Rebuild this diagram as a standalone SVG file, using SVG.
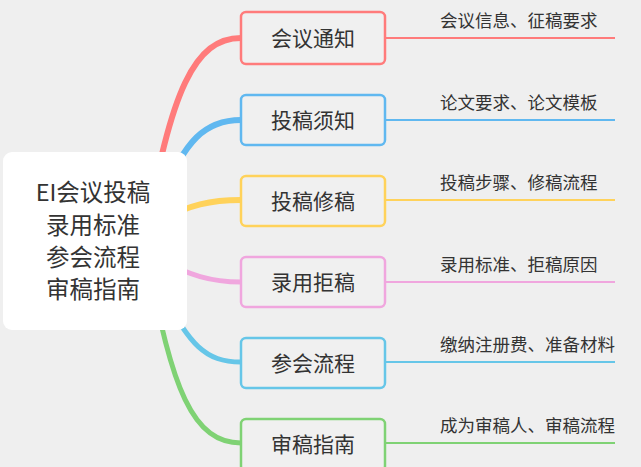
<svg xmlns="http://www.w3.org/2000/svg" width="641" height="467" viewBox="0 0 641 467">
<style>
text{font-family:"Noto Sans CJK SC","Liberation Sans",sans-serif;fill:#333}
.n rect{fill:#f0f0f0;stroke-width:2.5}
.n text{font-size:21px;text-anchor:middle}
.l{font-size:17.5px}
.c path{fill:none}
</style>
<rect width="641" height="467" fill="#efefef"/>
<g class="c">
<path d="M145,240 C170,90 195,38 241,38" stroke="#ff7b7b" stroke-width="6"/>
<path d="M160,200 C185,140 205,120 241,120" stroke="#60b8f0" stroke-width="6"/>
<path d="M160,220 C190,205 210,200 241,200" stroke="#ffd25a" stroke-width="6"/>
<path d="M160,260 C190,275 210,282 241,282" stroke="#f0a6de" stroke-width="5"/>
<path d="M160,290 C190,345 205,362 241,362" stroke="#66c6e8" stroke-width="5"/>
<path d="M145,240 C170,395 195,443 241,443" stroke="#7fd274" stroke-width="5"/>
<path d="M385,38H615" stroke="#ff7b7b" stroke-width="2"/>
<path d="M385,120H615" stroke="#60b8f0" stroke-width="2"/>
<path d="M385,200H615" stroke="#ffd25a" stroke-width="2"/>
<path d="M385,282H615" stroke="#f0a6de" stroke-width="2"/>
<path d="M385,362H615" stroke="#66c6e8" stroke-width="2"/>
<path d="M385,443H615" stroke="#7fd274" stroke-width="2"/>
</g>
<g id="center"><rect x="3" y="152" width="184" height="178" rx="9" fill="#fff"/>
<text x="93" y="201" font-size="23.5" text-anchor="middle">EI会议投稿</text>
<text x="93" y="234" font-size="23.5" text-anchor="middle">录用标准</text>
<text x="93" y="266" font-size="23.5" text-anchor="middle">参会流程</text>
<text x="93" y="298" font-size="23.5" text-anchor="middle">审稿指南</text></g>
<g id="n1" class="n"><rect x="241" y="12" width="144" height="52" rx="5" stroke="#ff7b7b"/><text x="313" y="46">会议通知</text></g>
<g id="n2" class="n"><rect x="241" y="95" width="144" height="50" rx="5" stroke="#60b8f0"/><text x="313" y="128">投稿须知</text></g>
<g id="n3" class="n"><rect x="241" y="176" width="144" height="50" rx="5" stroke="#ffd25a"/><text x="313" y="209">投稿修稿</text></g>
<g id="n4" class="n"><rect x="241" y="257" width="144" height="50" rx="5" stroke="#f0a6de"/><text x="313" y="290">录用拒稿</text></g>
<g id="n5" class="n"><rect x="241" y="338" width="144" height="50" rx="5" stroke="#66c6e8"/><text x="313" y="371">参会流程</text></g>
<g id="n6" class="n"><rect x="241" y="419" width="144" height="52" rx="5" stroke="#7fd274"/><text x="313" y="452">审稿指南</text></g>
<g id="labels">
<text class="l" x="440" y="27">会议信息、征稿要求</text>
<text class="l" x="440" y="109">论文要求、论文模板</text>
<text class="l" x="440" y="189">投稿步骤、修稿流程</text>
<text class="l" x="440" y="271">录用标准、拒稿原因</text>
<text class="l" x="440" y="351">缴纳注册费、准备材料</text>
<text class="l" x="440" y="432">成为审稿人、审稿流程</text>
</g>
</svg>
